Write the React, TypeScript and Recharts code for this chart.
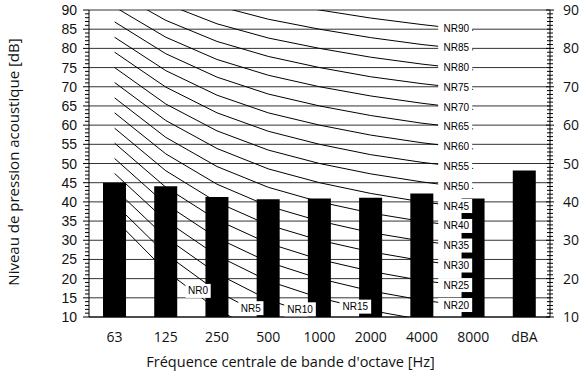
import React from 'react';
import { ComposedChart, Bar, Line, XAxis, YAxis, CartesianGrid, ReferenceDot, Label } from 'recharts';

// octave bands + overall A-weighted level
const bands = ['63', '125', '250', '500', '1000', '2000', '4000', '8000', 'dBA'];
const measured = [45.0, 44.1, 41.3, 40.7, 40.9, 41.1, 42.2, 40.9, 48.2];

// NR curves, 63 Hz .. 8000 Hz
const nrLevels = [0, 5, 10, 15, 20, 25, 30, 35, 40, 45, 50, 55, 60, 65, 70, 75, 80, 85, 90];
const nrCurves: number[][] = [
  [35.5, 22.0, 12.0, 4.8, 0, -3.5, -6.1, -8.0],
  [39.5, 26.4, 16.7, 9.7, 5, 1.6, -1.0, -2.9],
  [43.4, 30.7, 21.3, 14.5, 10, 6.7, 4.2, 2.3],
  [47.4, 35.1, 26.0, 19.4, 15, 11.7, 9.3, 7.5],
  [51.3, 39.4, 30.6, 24.3, 20, 16.8, 14.4, 12.6],
  [55.3, 43.8, 35.3, 29.2, 25, 21.9, 19.5, 17.8],
  [59.2, 48.1, 39.9, 34.0, 30, 27.0, 24.7, 22.9],
  [63.2, 52.5, 44.6, 38.9, 35, 32.0, 29.8, 28.1],
  [67.1, 56.8, 49.2, 43.8, 40, 37.1, 34.9, 33.2],
  [71.1, 61.2, 53.9, 48.6, 45, 42.2, 40.0, 38.4],
  [75.0, 65.5, 58.5, 53.5, 50, 47.3, 45.2, 43.5],
  [79.0, 69.9, 63.2, 58.4, 55, 52.3, 50.3, 48.7],
  [82.9, 74.2, 67.8, 63.2, 60, 57.4, 55.4, 53.8],
  [86.9, 78.6, 72.5, 68.1, 65, 62.5, 60.5, 59.0],
  [90.8, 82.9, 77.1, 73.0, 70, 67.6, 65.7, 64.1],
  [94.8, 87.3, 81.8, 77.9, 75, 72.6, 70.8, 69.3],
  [98.7, 91.6, 86.4, 82.7, 80, 77.7, 75.9, 74.4],
  [102.7, 96.0, 91.1, 87.6, 85, 82.8, 81.0, 79.6],
  [106.6, 100.3, 95.7, 92.5, 90, 87.9, 86.2, 84.7],
];

// low curves are tagged where they leave the plot (band index, level)
const lowTags = [
  { nr: 0, at: 1.63, level: 16.8 },
  { nr: 5, at: 2.66, level: 12.3 },
  { nr: 10, at: 3.62, level: 12.0 },
  { nr: 15, at: 4.7, level: 12.7 },
];

const leftTickLabels = [10, 15, 20, 25, 30, 35, 40, 45, 50, 55, 60, 65, 70, 75, 80, 85, 90];
const rightTickLabels = [10, 20, 30, 40, 50, 60, 70, 80, 90];
const minorTicks = Array.from({ length: 81 }, (_, i) => 10 + i);

const rows = bands.map((b, i) => {
  const row: any = { x: i, level: measured[i] };
  nrLevels.forEach((n, k) => {
    if (i < nrCurves[k].length) row[`nr${n}`] = nrCurves[k][i];
  });
  return row;
});

const LeftTick = ({ x, y, payload }: any) => {
  const v = payload.value;
  const major = leftTickLabels.includes(v);
  return (
    <g>
      <line x1={x - (major ? 6 : 4)} x2={x} y1={y} y2={y} stroke="#000" />
      {major && (
        <text x={x - 12} y={y} dy="0.36em" textAnchor="end" fontSize={14} fontFamily="'Liberation Sans', Arial" fill="#111">
          {v}
        </text>
      )}
    </g>
  );
};

const RightTick = ({ x, y, payload }: any) => {
  const v = payload.value;
  const major = rightTickLabels.includes(v);
  return (
    <g>
      <line x1={x - (major ? 4 : 3)} x2={x + (major ? 4 : 3)} y1={y} y2={y} stroke="#000" />
      {major && (
        <text x={x + 13} y={y} dy="0.36em" textAnchor="start" fontSize={14} fontFamily="'Open Sans', sans-serif" fill="#111">
          {v}
        </text>
      )}
    </g>
  );
};

const tagContent = (text: string, anchor: 'end' | 'middle') => (props: any) => {
  const { x, y } = props.viewBox;
  const w = anchor === 'end' ? 34 : 6 + text.length * 6.4;
  const left = anchor === 'end' ? x - 35 : x - w / 2;
  const cy = anchor === 'end' ? y - 2 : y;
  return (
    <g>
      <rect x={left} y={cy - 7} width={w} height={14} fill="#fff" />
      <text
        x={anchor === 'end' ? x - 4 : x}
        y={cy}
        dy="0.35em"
        textAnchor={anchor}
        fontSize={10}
        fontFamily="'Liberation Sans', Arial"
        fill="#000"
      >
        {text}
      </text>
    </g>
  );
};

// y title, placed beside the plot
const yTitle = () => {
  const cx = 14;
  const cy = 162;
  return (
    <text
      x={cx}
      y={cy}
      dy="0.35em"
      transform={`rotate(-90 ${cx} ${cy})`}
      textAnchor="middle"
      fontSize={15}
      fontFamily="'Open Sans', sans-serif"
      fill="#111"
    >
      Niveau de pression acoustique [dB]
    </text>
  );
};

export default function App() {
  return (
    <div style={{ position: 'absolute', left: 0, top: 0, background: '#fff' }}>
      <ComposedChart width={581} height={376} data={rows} margin={{ top: 10, right: 0, bottom: 0, left: 0 }}>
        <CartesianGrid vertical={false} horizontalValues={leftTickLabels} stroke="#333" />
        <XAxis
          type="number"
          dataKey="x"
          domain={[-0.5, 8.5]}
          ticks={[0, 1, 2, 3, 4, 5, 6, 7, 8]}
          interval={0}
          tickFormatter={(i: number) => bands[i]}
          tickLine={false}
          tickSize={0}
          tickMargin={15}
          height={59}
          axisLine={{ stroke: '#000' }}
          tick={{ fontSize: 14, fontFamily: "'Open Sans', sans-serif", fill: '#111' }}
        >
          <Label
            value="Fréquence centrale de bande d'octave [Hz]"
            position="insideBottom"
            offset={9}
            dx={-29}
            style={{ fontSize: 14.5, fontFamily: "'Open Sans', sans-serif", fill: '#111' }}
          />
        </XAxis>
        <YAxis
          type="number"
          domain={[10, 90]}
          allowDataOverflow
          ticks={minorTicks}
          interval={0}
          width={89}
          tickLine={false}
          tickSize={0}
          tickMargin={0}
          axisLine={{ stroke: '#000' }}
          tick={<LeftTick />}
        >
          <Label content={yTitle} />
        </YAxis>
        <YAxis
          yAxisId="r"
          orientation="right"
          type="number"
          domain={[10, 90]}
          allowDataOverflow
          ticks={minorTicks}
          interval={0}
          width={31}
          tickLine={false}
          tickSize={0}
          tickMargin={0}
          axisLine={{ stroke: '#000' }}
          tick={<RightTick />}
        />
        <Bar dataKey="level" fill="#000" barSize={23} isAnimationActive={false} />
        {nrLevels.map((n) => (
          <Line
            key={n}
            dataKey={`nr${n}`}
            stroke="#000"
            strokeWidth={1}
            dot={false}
            activeDot={false}
            isAnimationActive={false}
            legendType="none"
          />
        ))}
        {nrLevels.map((n, k) =>
          n >= 20 ? (
            <ReferenceDot
              key={`tag${n}`}
              x={7}
              y={nrCurves[k][7]}
              r={0}
              fill="none"
              stroke="none"
              label={tagContent(`NR${n}`, 'end')}
            />
          ) : null
        )}
        {lowTags.map((t) => (
          <ReferenceDot
            key={`low${t.nr}`}
            x={t.at}
            y={t.level}
            r={0}
            fill="none"
            stroke="none"
            label={tagContent(`NR${t.nr}`, 'middle')}
          />
        ))}
      </ComposedChart>
    </div>
  );
}
